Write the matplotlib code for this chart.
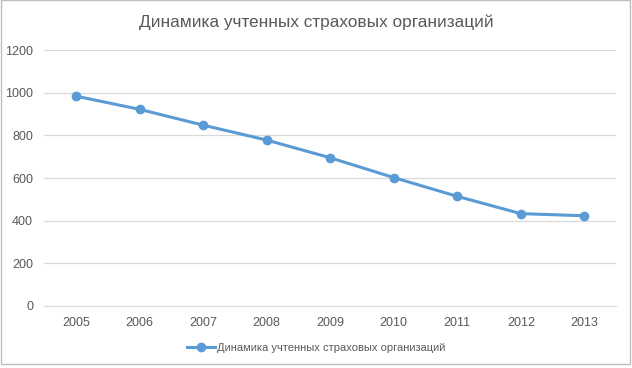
import matplotlib
matplotlib.use("Agg")
import matplotlib.pyplot as plt

years = ["2005", "2006", "2007", "2008", "2009", "2010", "2011", "2012", "2013"]
counts = [984, 922, 848, 778, 695, 602, 514, 433, 423]
series_name = "Динамика учтенных страховых организаций"
title = "Динамика учтенных страховых организаций"

plt.rcParams['font.family'] = ['Liberation Sans', 'DejaVu Sans']

fig = plt.figure(figsize=(6.32, 3.68), dpi=100)
ax = fig.add_axes([0.070, 0.1685, 0.905, 0.6955])

x = list(range(len(years)))
ax.plot(x, counts, color="#5B9BD5", linewidth=2.2, marker="o", markersize=6,
        label=series_name)

ax.set_xlim(-0.5, len(years) - 0.5)
ax.set_ylim(0, 1200)
ax.set_yticks(range(0, 1201, 200))
ax.set_xticks(x)
ax.set_xticklabels(years)
ax.grid(axis="y", color="#D9D9D9", linewidth=0.9)
ax.set_axisbelow(True)
for s in ["top", "right", "left"]:
    ax.spines[s].set_visible(False)
ax.spines["bottom"].set_color("#D9D9D9")
ax.tick_params(length=0, labelsize=9, colors="#595959", pad=8)

fig.text(0.5, 0.94, title, ha="center", va="center", fontsize=12.4, color="#595959")
fig.legend(loc="center", bbox_to_anchor=(0.5, 0.054), frameon=False, fontsize=8,
           labelcolor="#595959", handlelength=2.5, handletextpad=0.2)

fig.patches.append(plt.Rectangle((0.001, 0.011), 0.996, 0.988, transform=fig.transFigure,
                                 fill=False, edgecolor="#BFBFBF", linewidth=1))

fig.savefig("out.png", dpi=100)
